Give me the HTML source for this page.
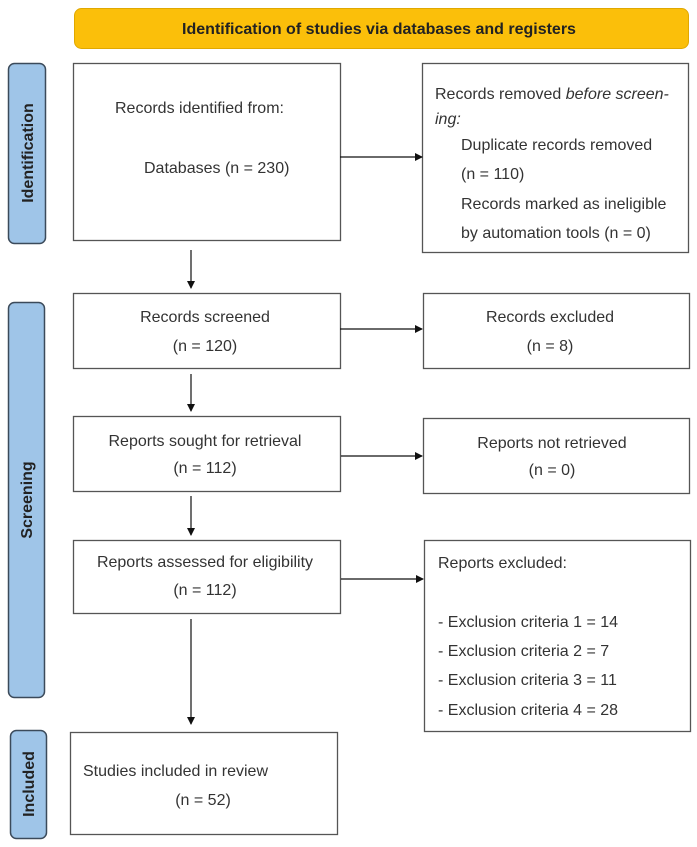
<!DOCTYPE html>
<html><head><meta charset="utf-8"><style>
html,body{margin:0;padding:0;background:#fff;}
svg{display:block;}
text{font-family:"Liberation Sans",Arial,sans-serif;fill:#333;font-size:16px;}
</style></head><body>
<svg width="697" height="847" viewBox="0 0 697 847" xmlns="http://www.w3.org/2000/svg">
<defs><marker id="a" markerWidth="8" markerHeight="8" refX="7" refY="4" orient="auto" markerUnits="userSpaceOnUse"><path d="M0,0 L8,4 L0,8 z" fill="#111"/></marker></defs>
<rect x="74.5" y="8.5" width="614" height="40" rx="7" fill="#fbbf0a" stroke="#e0a800"/>
<text x="379" y="34" text-anchor="middle" font-weight="bold" style="fill:#222">Identification of studies via databases and registers</text>
<g fill="#9fc5e8" stroke="#3b4a5a" stroke-width="1.5">
<rect x="8.5" y="63.5" width="37" height="180" rx="6"/>
<rect x="8.5" y="302.5" width="36" height="395" rx="6"/>
<rect x="10.5" y="730.5" width="36" height="108" rx="6"/>
</g>
<g font-weight="bold">
<text transform="translate(33,153) rotate(-90)" text-anchor="middle" style="fill:#222">Identification</text>
<text transform="translate(32,500) rotate(-90)" text-anchor="middle" style="fill:#222">Screening</text>
<text transform="translate(34,784) rotate(-90)" text-anchor="middle" style="fill:#222">Included</text>
</g>
<g fill="#fff" stroke="#555" stroke-width="1.3">
<rect x="73.5" y="63.5" width="267" height="177"/>
<rect x="422.5" y="63.5" width="266" height="189"/>
<rect x="73.5" y="293.5" width="267" height="75"/>
<rect x="423.5" y="293.5" width="266" height="75"/>
<rect x="73.5" y="416.5" width="267" height="75"/>
<rect x="423.5" y="418.5" width="266" height="75"/>
<rect x="73.5" y="540.5" width="267" height="73"/>
<rect x="424.5" y="540.5" width="266" height="191"/>
<rect x="70.5" y="732.5" width="267" height="102"/>
</g>
<g stroke="#111" stroke-width="1.2" marker-end="url(#a)">
<line x1="340" y1="157" x2="422" y2="157"/>
<line x1="340" y1="329" x2="422" y2="329"/>
<line x1="341" y1="456" x2="422" y2="456"/>
<line x1="341" y1="579" x2="423" y2="579"/>
<line x1="191" y1="250" x2="191" y2="288"/>
<line x1="191" y1="374" x2="191" y2="411"/>
<line x1="191" y1="496" x2="191" y2="535"/>
<line x1="191" y1="619" x2="191" y2="724"/>
</g>
<text x="115" y="113">Records identified from:</text>
<text x="144" y="173">Databases (n = 230)</text>
<text x="435" y="99">Records removed <tspan font-style="italic">before screen-</tspan></text>
<text x="435" y="124" font-style="italic">ing:</text>
<text x="461" y="150">Duplicate records removed</text>
<text x="461" y="179">(n = 110)</text>
<text x="461" y="209">Records marked as ineligible</text>
<text x="461" y="238">by automation tools (n = 0)</text>
<text x="205" y="322" text-anchor="middle">Records screened</text>
<text x="205" y="351" text-anchor="middle">(n = 120)</text>
<text x="550" y="322" text-anchor="middle">Records excluded</text>
<text x="550" y="351" text-anchor="middle">(n = 8)</text>
<text x="205" y="446" text-anchor="middle">Reports sought for retrieval</text>
<text x="205" y="473" text-anchor="middle">(n = 112)</text>
<text x="552" y="448" text-anchor="middle">Reports not retrieved</text>
<text x="552" y="475" text-anchor="middle">(n = 0)</text>
<text x="205" y="567" text-anchor="middle">Reports assessed for eligibility</text>
<text x="205" y="595" text-anchor="middle">(n = 112)</text>
<text x="438" y="568">Reports excluded:</text>
<text x="438" y="627">- Exclusion criteria 1 = 14</text>
<text x="438" y="656">- Exclusion criteria 2 = 7</text>
<text x="438" y="685">- Exclusion criteria 3 = 11</text>
<text x="438" y="715">- Exclusion criteria 4 = 28</text>
<text x="83" y="776">Studies included in review</text>
<text x="203" y="805" text-anchor="middle">(n = 52)</text>
</svg>
</body></html>
